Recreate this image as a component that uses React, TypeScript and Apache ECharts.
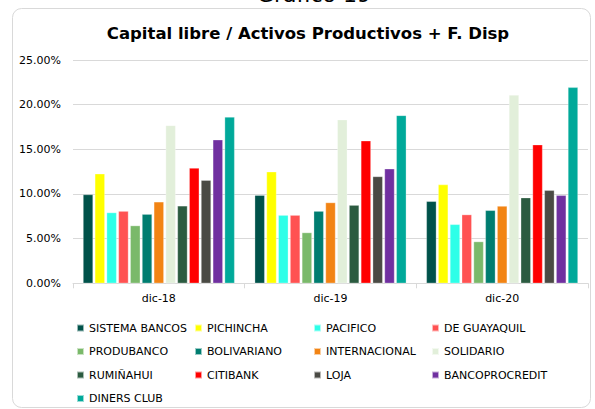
import React, { useEffect, useRef } from "react";
import * as echarts from "echarts";

const categories = ["dic-18", "dic-19", "dic-20"];
const seriesNames = [
  "SISTEMA BANCOS", "PICHINCHA", "PACIFICO", "DE GUAYAQUIL",
  "PRODUBANCO", "BOLIVARIANO", "INTERNACIONAL", "SOLIDARIO",
  "RUMIÑAHUI", "CITIBANK", "LOJA", "BANCOPROCREDIT", "DINERS CLUB",
];
const colors = [
  "#00524A", "#FFFF00", "#2EFFE8", "#FF5252",
  "#7AB96A", "#007D70", "#F28414", "#E2EFDA",
  "#2B5B40", "#FF0000", "#4A4A44", "#7030A0", "#00A99A",
];
// values in % for dic-18, dic-19, dic-20
const sistemaBancos = [9.94, 9.87, 9.18];
const pichincha = [12.26, 12.49, 11.05];
const pacifico = [7.92, 7.63, 6.6];
const deGuayaquil = [8.08, 7.63, 7.69];
const produbanco = [6.46, 5.68, 4.67];
const bolivariano = [7.74, 8.08, 8.17];
const internacional = [9.12, 9.04, 8.65];
const solidario = [17.68, 18.32, 21.08];
const ruminahui = [8.67, 8.75, 9.59];
const citibank = [12.9, 15.96, 15.52];
const loja = [11.55, 11.96, 10.41];
const bancoprocredit = [16.07, 12.82, 9.85];
const dinersClub = [18.62, 18.8, 21.94];
const seriesValues = [
  sistemaBancos, pichincha, pacifico, deGuayaquil, produbanco, bolivariano,
  internacional, solidario, ruminahui, citibank, loja, bancoprocredit, dinersClub,
];
const legendColumns = [
  ["SISTEMA BANCOS", "PRODUBANCO", "RUMIÑAHUI", "DINERS CLUB"],
  ["PICHINCHA", "BOLIVARIANO", "CITIBANK"],
  ["PACIFICO", "INTERNACIONAL", "LOJA"],
  ["DE GUAYAQUIL", "SOLIDARIO", "BANCOPROCREDIT"],
];
const legendLefts = [76, 194, 313, 431];

const FONT = "DejaVu Sans";

export default function App() {
  const ref = useRef<HTMLDivElement>(null);
  useEffect(() => {
    if (!ref.current) return;
    const chart = echarts.init(ref.current, null, { renderer: "svg" });
    chart.setOption({
      animation: false,
      backgroundColor: "#ffffff",
      textStyle: { fontFamily: FONT },
      graphic: [
        {
          type: "rect",
          shape: { x: 12.5, y: 8.5, width: 578, height: 399, r: 9 },
          style: { fill: "#ffffff", stroke: "#d9d9d9", lineWidth: 1 },
          z: -10,
        },
        {
          type: "text",
          x: 314,
          y: 5,
          style: {
            text: "Gráfico 19",
            fontFamily: FONT,
            fontSize: 22,
            fill: "#000000",
            align: "center",
            verticalAlign: "bottom",
          },
        },
      ],
      title: {
        text: "Capital libre / Activos Productivos + F. Disp",
        left: 303,
        top: 20,
        textAlign: "center",
        textStyle: { fontFamily: FONT, fontSize: 16.5, fontWeight: "bold", color: "#000" },
      },
      legend: legendColumns.map((col, i) => ({
        data: col,
        orient: "vertical",
        left: legendLefts[i],
        top: 321,
        padding: 0,
        itemWidth: 7,
        itemHeight: 7,
        itemGap: 9.5,
        icon: "rect",
        textStyle: { fontFamily: FONT, fontSize: 11, color: "#000", lineHeight: 14 },
      })),
      grid: { left: 73, right: 7, top: 60, bottom: 125.7, containLabel: false },
      xAxis: {
        type: "category",
        data: categories,
        axisLine: { show: true, lineStyle: { color: "#d9d9d9" } },
        axisTick: { show: true, length: 5, lineStyle: { color: "#d9d9d9" } },
        axisLabel: { fontFamily: FONT, fontSize: 11, color: "#000", margin: 10 },
      },
      yAxis: {
        type: "value",
        min: 0,
        max: 25,
        interval: 5,
        axisLine: { show: false },
        axisTick: { show: false },
        splitLine: { lineStyle: { color: "#d9d9d9" } },
        axisLabel: {
          fontFamily: FONT,
          fontSize: 11,
          color: "#000",
          margin: 12,
          formatter: (v: number) => v.toFixed(2) + "%",
        },
      },
      series: seriesNames.map((name, i) => ({
        name,
        type: "bar",
        data: seriesValues[i],
        barWidth: 10,
        barGap: "18%",
        itemStyle: { color: colors[i], borderColor: "rgba(255,255,255,0.6)", borderWidth: 0.5 },
      })),
    });
    return () => chart.dispose();
  }, []);
  return (
    <div
      ref={ref}
      style={{ position: "fixed", left: 0, top: 0, width: 595, height: 409 }}
    />
  );
}
